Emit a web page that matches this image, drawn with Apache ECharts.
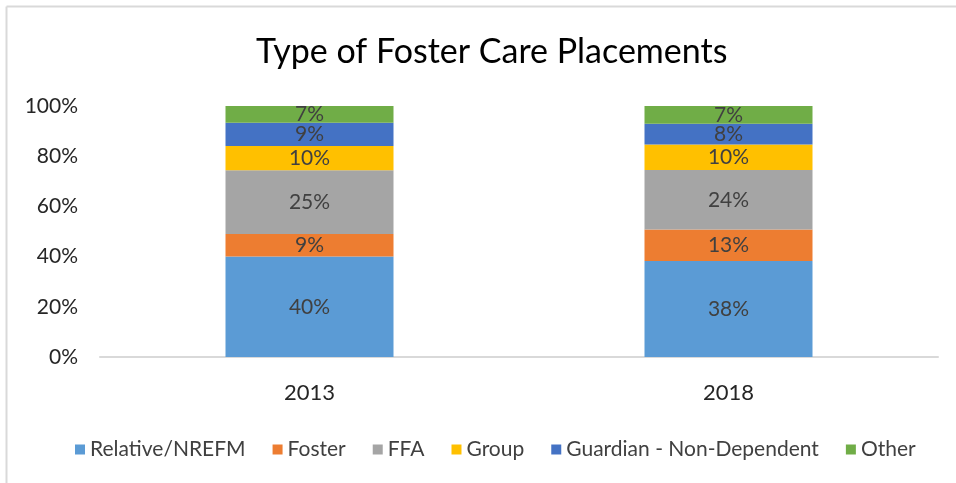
<!DOCTYPE html>
<html>
<head>
<meta charset="utf-8">
<script src="https://cdn.jsdelivr.net/npm/echarts@6/dist/echarts.min.js"></script>
<style>
  html, body { margin: 0; padding: 0; background: #fff; }
  #chart { width: 956px; height: 483px; }
</style>
</head>
<body>
<div id="chart"></div>
<script>
// categories and series (percent of placements)
var years = ['2013', '2018'];
var relative = [40.0, 38.2];
var foster = [9.0, 12.6];
var ffa = [25.4, 23.7];
var group = [9.7, 10.2];
var guardian = [9.2, 8.2];
var other = [6.7, 7.1];
var yTicks = [0, 20, 40, 60, 80, 100];

var names = ['Relative/NREFM', 'Foster', 'FFA', 'Group', 'Guardian - Non-Dependent', 'Other'];
var colors = ['#5b9bd5', '#ed7d31', '#a5a5a5', '#ffc000', '#4472c4', '#70ad47'];
var values = [relative, foster, ffa, group, guardian, other];

var font = 'Lato, "Open Sans", sans-serif';

var series = [];
for (var i = 0; i < names.length; i++) {
  series.push({
    name: names[i],
    type: 'bar',
    stack: 'total',
    barWidth: 168,
    data: values[i],
    itemStyle: { color: colors[i] },
    label: {
      show: true,
      position: 'inside',
      color: '#404040',
      fontFamily: font,
      fontSize: 21,
      formatter: function (p) { return Math.round(p.value) + '%'; }
    }
  });
}

var myChart = echarts.init(document.getElementById('chart'));
var option = {
  animation: false,
  backgroundColor: '#fff',
  title: {
    text: 'Type of Foster Care Placements',
    left: 251,
    top: 30,
    textStyle: { fontFamily: font, fontSize: 34, fontWeight: 'normal', color: '#000' }
  },
  graphic: [
    { type: 'line', shape: { x1: 6.5, y1: 6.5, x2: 960, y2: 6.5 }, style: { stroke: '#d9d9d9', lineWidth: 2 } },
    { type: 'line', shape: { x1: 6.5, y1: 6.5, x2: 6.5, y2: 490 }, style: { stroke: '#d9d9d9', lineWidth: 2 } }
  ],
  grid: { left: 100, right: 18, top: 106, bottom: 126 },
  legend: {
    data: names,
    left: 70,
    top: 434,
    itemWidth: 10,
    itemHeight: 10,
    itemGap: 27,
    icon: 'rect',
    textStyle: { fontFamily: font, fontSize: 21, color: '#404040' }
  },
  xAxis: {
    type: 'category',
    data: years,
    axisLine: { lineStyle: { color: '#d9d9d9', width: 2 } },
    axisTick: { show: false },
    axisLabel: { fontFamily: font, fontSize: 22, color: '#262626', margin: 25 }
  },
  yAxis: {
    type: 'value',
    min: yTicks[0],
    max: yTicks[yTicks.length - 1],
    interval: 20,
    axisLine: { show: false },
    axisTick: { show: false },
    splitLine: { show: false },
    axisLabel: { fontFamily: font, fontSize: 21, color: '#262626', margin: 22, formatter: '{value}%' }
  },
  series: series
};
myChart.setOption(option);
</script>
</body>
</html>
